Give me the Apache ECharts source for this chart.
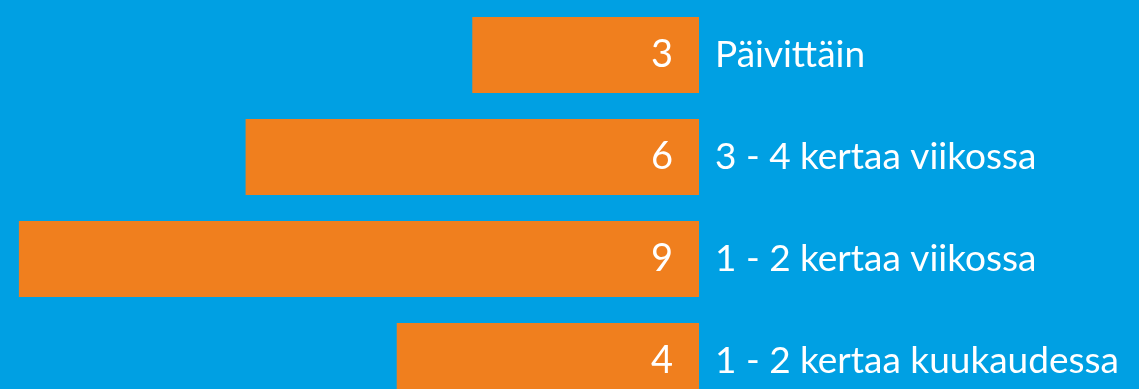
<!DOCTYPE html>
<html><head><meta charset="utf-8">
<script src="https://cdn.jsdelivr.net/npm/echarts@6/dist/echarts.min.js"></script>
<style>html,body{margin:0;padding:0;background:#00A0E3;}#c{width:1139px;height:389px;}</style>
</head><body><div id="c"></div>
<script>
const categories = ['Päivittäin', '3 - 4 kertaa viikossa', '1 - 2 kertaa viikossa', '1 - 2 kertaa kuukaudessa'];
const values = [3, 6, 9, 4];

const chart = echarts.init(document.getElementById('c'), null, {renderer: 'canvas'});
chart.setOption({
  backgroundColor: '#00A0E3',
  animation: false,
  grid: {left: 0, width: 699, top: 4, height: 408, containLabel: false, outerBoundsMode: 'none'},
  xAxis: {type: 'value', inverse: true, min: 0, max: 9.25, show: false},
  yAxis: {
    type: 'category', data: categories, inverse: true, position: 'right',
    axisLine: {show: false}, axisTick: {show: false}, splitLine: {show: false},
    axisLabel: {color: '#fff', fontFamily: 'Lato', fontSize: 37, margin: 16, align: 'left'}
  },
  series: [{
    type: 'bar', data: values, barWidth: 76,
    itemStyle: {color: '#F07F1E'},
    label: {show: true, position: 'insideRight', distance: 26, color: '#fff', fontFamily: 'Lato', fontSize: 38}
  }]
});
</script></body></html>
